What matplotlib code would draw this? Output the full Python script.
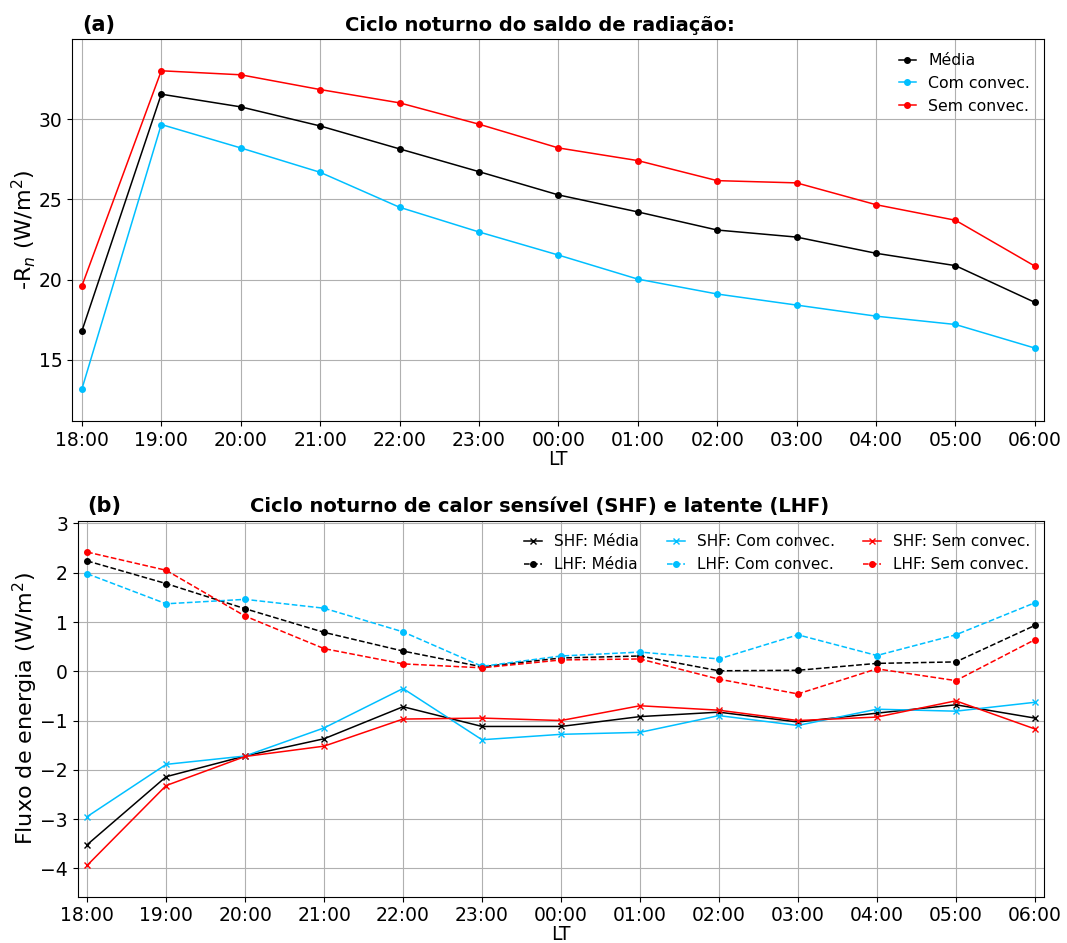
import numpy as np
import matplotlib
matplotlib.use("Agg")
import matplotlib.pyplot as plt

# Hours of the night (local time)
hours = ["18:00", "19:00", "20:00", "21:00", "22:00", "23:00", "00:00",
         "01:00", "02:00", "03:00", "04:00", "05:00", "06:00"]

# Net radiation (-Rn, W/m2)
rn_media = [16.79, 31.56, 30.77, 29.58, 28.15, 26.73, 25.28, 24.22, 23.09, 22.65, 21.64, 20.87, 18.58]
rn_com = [13.17, 29.67, 28.21, 26.69, 24.51, 22.97, 21.53, 20.03, 19.10, 18.41, 17.72, 17.20, 15.73]
rn_sem = [19.60, 33.02, 32.77, 31.85, 31.02, 29.69, 28.21, 27.42, 26.17, 26.03, 24.67, 23.70, 20.84]

# Sensible heat flux (W/m2)
shf_media = [-3.52, -2.14, -1.72, -1.37, -0.72, -1.12, -1.12, -0.92, -0.83, -1.03, -0.85, -0.68, -0.95]
shf_com = [-2.95, -1.89, -1.72, -1.15, -0.35, -1.39, -1.28, -1.24, -0.90, -1.10, -0.77, -0.81, -0.63]
shf_sem = [-3.94, -2.32, -1.73, -1.52, -0.97, -0.95, -1.00, -0.70, -0.79, -1.00, -0.93, -0.60, -1.17]

# Latent heat flux (W/m2)
lhf_media = [2.24, 1.78, 1.27, 0.79, 0.41, 0.09, 0.27, 0.31, 0.01, 0.02, 0.16, 0.19, 0.93]
lhf_com = [1.98, 1.37, 1.46, 1.28, 0.80, 0.10, 0.31, 0.39, 0.25, 0.74, 0.32, 0.74, 1.39]
lhf_sem = [2.42, 2.05, 1.12, 0.46, 0.15, 0.07, 0.23, 0.25, -0.16, -0.46, 0.05, -0.19, 0.64]

c_media = "black"
c_com = "deepskyblue"
c_sem = "red"

x = np.arange(len(hours))

fig = plt.figure(figsize=(10.67, 9.43), dpi=100)
ax1 = fig.add_axes([0.0678, 0.5536, 0.9110, 0.4051])
ax2 = fig.add_axes([0.0728, 0.0491, 0.9059, 0.3987])

lw = 1.1
ms = 4

# (a) net radiation
ax1.plot(x, rn_media, "-o", color=c_media, lw=lw, ms=ms, label="Média")
ax1.plot(x, rn_com, "-o", color=c_com, lw=lw, ms=ms, label="Com convec.")
ax1.plot(x, rn_sem, "-o", color=c_sem, lw=lw, ms=ms, label="Sem convec.")
ax1.set_ylabel(r"-R$_n$ (W/m$^2$)", fontsize=16, labelpad=0.5)
ax1.set_yticks([15, 20, 25, 30])
ax1.legend(loc="upper right", frameon=False, fontsize=11.3, handlelength=1.07)

# (b) sensible and latent heat
ax2.plot(x, shf_media, "-x", color=c_media, lw=lw, ms=ms, label="SHF: Média")
ax2.plot(x, lhf_media, "--o", color=c_media, lw=lw, ms=ms, label="LHF: Média")
ax2.plot(x, shf_com, "-x", color=c_com, lw=lw, ms=ms, label="SHF: Com convec.")
ax2.plot(x, lhf_com, "--o", color=c_com, lw=lw, ms=ms, label="LHF: Com convec.")
ax2.plot(x, shf_sem, "-x", color=c_sem, lw=lw, ms=ms, label="SHF: Sem convec.")
ax2.plot(x, lhf_sem, "--o", color=c_sem, lw=lw, ms=ms, label="LHF: Sem convec.")
ax2.set_ylabel(r"Fluxo de energia (W/m$^2$)", fontsize=16, labelpad=0.5)
ax2.set_yticks([-4, -3, -2, -1, 0, 1, 2, 3])
ax2.legend(loc="upper right", frameon=False, fontsize=11, ncol=3,
           handlelength=1.2, columnspacing=1.8)

titles = ["Ciclo noturno do saldo de radiação:",
          "Ciclo noturno de calor sensível (SHF) e latente (LHF)"]
tags = ["(a)", "(b)"]
title_x = [0.481, 0.478]

for ax, title, tag, tx in zip([ax1, ax2], titles, tags, title_x):
    ax.margins(x=0.01, y=0.1)
    ax.set_xticks(x)
    ax.set_xticklabels(hours)
    ax.tick_params(labelsize=13.5)
    ax.set_xlabel("LT", fontsize=13.5, labelpad=0)
    ax.grid(True)
    ax.set_title(title, fontsize=14, fontweight="bold", x=tx)
    ax.annotate(tag, xy=(0, 1), xycoords=("data", "axes fraction"),
                xytext=(0, 6), textcoords="offset points",
                va="baseline", ha="left", fontsize=15, fontweight="bold")

fig.savefig("out.png", dpi=100)
